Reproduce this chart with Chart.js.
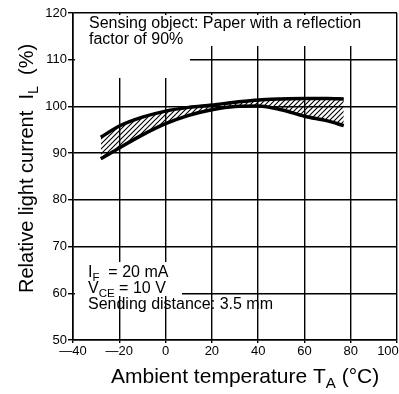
<!DOCTYPE html>
<html>
<head>
<meta charset="utf-8">
<script src="https://cdn.jsdelivr.net/npm/chart.js@4.4.0/dist/chart.umd.min.js"></script>
<style>
  html, body { margin: 0; padding: 0; background: #fff; }
  #wrap { width: 399px; height: 394px; }
</style>
</head>
<body>
<div id="wrap"><canvas id="chart" width="399" height="394"></canvas></div>
<script>
// values (temperature in °C, light current in %)
const temperatures = [-28, -20, -10, 0, 10, 20, 30, 40, 50, 60, 70, 77];
const upperCurve = [93.4, 95.8, 97.7, 99.0, 99.8, 100.3, 100.9, 101.4, 101.6, 101.7, 101.7, 101.6];
const lowerCurve = [88.8, 91.1, 93.9, 96.3, 98.1, 99.3, 100.0, 100.1, 99.3, 97.9, 96.9, 95.9];
const xTicks = [-40, -20, 0, 20, 40, 60, 80, 100];
const yTicks = [50, 60, 70, 80, 90, 100, 110, 120];
const noteTop = ['Sensing object: Paper with a reflection', 'factor of 90%'];

const FONT = '"Liberation Sans", Arial, sans-serif';

function makeHatch() {
    const c = document.createElement('canvas');
    c.width = 5; c.height = 5;
    const g = c.getContext('2d');
    g.strokeStyle = '#000';
    g.lineWidth = 1.1;
    g.beginPath();
    g.moveTo(0, 5); g.lineTo(5, 0);
    g.moveTo(-1, 1); g.lineTo(1, -1);
    g.moveTo(4, 6); g.lineTo(6, 4);
    g.stroke();
    return g.createPattern(c, 'repeat');
}

// draws text pieces one after another, sub pieces smaller and lower
function drawRuns(ctx, x, y, runs, size) {
    runs.forEach(r => {
        const s = r.sub ? size * 0.72 : size;
        ctx.font = s + 'px ' + FONT;
        ctx.fillText(r.t, x, y + (r.sub ? size * 0.25 : 0));
        x += ctx.measureText(r.t).width;
    });
    return x;
}

const textPlugin = {
    id: 'texts',
    beforeDatasetsDraw(chart) {
        // the notes sit on a blank patch of the grid
        const ctx = chart.ctx;
        ctx.save();
        ctx.fillStyle = '#fff';
        ctx.fillRect(75, 15, 115, 63);
        ctx.fillRect(190, 15, 205, 31);
        ctx.fillRect(75, 262, 107, 34);
        ctx.restore();
    },
    afterDraw(chart) {
        const ctx = chart.ctx;
        ctx.save();
        ctx.fillStyle = '#000';
        ctx.textBaseline = 'alphabetic';
        ctx.textAlign = 'left';

        drawRuns(ctx, 89, 28, [{ t: noteTop[0] }], 16);
        drawRuns(ctx, 89, 44, [{ t: noteTop[1] }], 16);

        drawRuns(ctx, 88, 277, [{ t: 'I' }, { t: 'F', sub: true }, { t: '  = 20 mA' }], 16);
        drawRuns(ctx, 88, 293, [{ t: 'V' }, { t: 'CE', sub: true }, { t: ' = 10 V' }], 16);
        drawRuns(ctx, 88, 309, [{ t: 'Sending distance: 3.5 mm' }], 16);

        // x axis title
        drawRuns(ctx, 111, 383, [{ t: 'Ambient temperature T' }, { t: 'A', sub: true }, { t: ' (°C)' }], 21);

        // y axis title, rotated
        ctx.translate(33, 293);
        ctx.rotate(-Math.PI / 2);
        drawRuns(ctx, 0, 0, [{ t: 'Relative light current  I' }, { t: 'L', sub: true }, { t: '  (%)' }], 20);
        ctx.restore();
    }
};

const ctx = document.getElementById('chart').getContext('2d');
const hatch = makeHatch();

new Chart(ctx, {
    type: 'line',
    data: {
        datasets: [
            {
                label: 'upper',
                data: temperatures.map((t, i) => ({ x: t, y: upperCurve[i] })),
                borderColor: '#000',
                borderWidth: 3.5,
                pointRadius: 0,
                cubicInterpolationMode: 'monotone',
                fill: '+1',
                backgroundColor: hatch
            },
            {
                label: 'lower',
                data: temperatures.map((t, i) => ({ x: t, y: lowerCurve[i] })),
                borderColor: '#000',
                borderWidth: 3.5,
                pointRadius: 0,
                cubicInterpolationMode: 'monotone',
                fill: false
            }
        ]
    },
    options: {
        responsive: false,
        animation: false,
        devicePixelRatio: 1,
        layout: { padding: { top: 13, right: 2, left: 0, bottom: 0 } },
        plugins: {
            legend: { display: false },
            tooltip: { enabled: false }
        },
        scales: {
            x: {
                type: 'linear',
                min: xTicks[0],
                max: xTicks[xTicks.length - 1],
                afterBuildTicks: scale => { scale.ticks = xTicks.map(v => ({ value: v })); },
                afterFit: scale => {
                    scale.height = 54;
                    scale.paddingRight = 0;
                    scale.paddingLeft = 0;
                },
                grid: { color: '#000', lineWidth: 1.4, tickLength: 3 },
                border: { color: '#000', width: 1.6 },
                ticks: {
                    color: '#000',
                    padding: 1,
                    maxRotation: 0,
                    autoSkip: false,
                    font: { family: FONT, size: 13 },
                    callback: v => v < 0 ? '\u2014' + Math.abs(v) : (v === 100 ? v + '     ' : String(v))
                }
            },
            y: {
                min: yTicks[0],
                max: yTicks[yTicks.length - 1],
                afterBuildTicks: scale => { scale.ticks = yTicks.map(v => ({ value: v })); },
                afterFit: scale => { scale.width = 73; },
                grid: { color: '#000', lineWidth: 1.4, tickLength: 5 },
                border: { color: '#000', width: 1.6 },
                ticks: {
                    color: '#000',
                    padding: 1,
                    autoSkip: false,
                    font: { family: FONT, size: 13 }
                }
            }
        }
    },
    plugins: [textPlugin]
});
</script>
</body>
</html>
